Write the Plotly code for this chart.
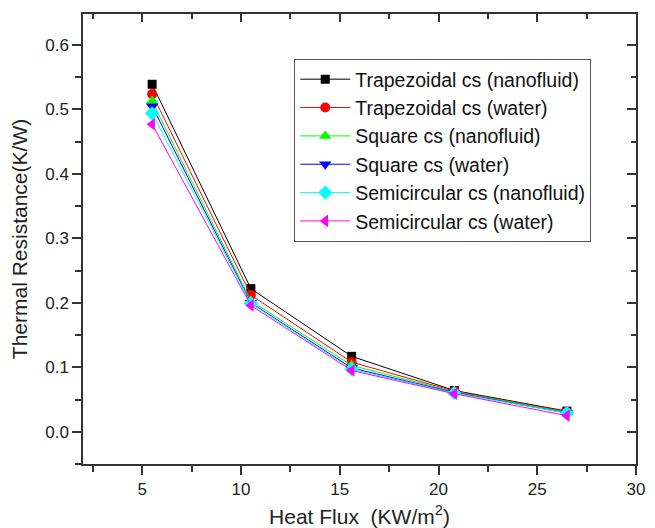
import plotly.graph_objects as go

heat_flux = [5.5, 10.5, 15.6, 20.8, 26.5]

trap_nano = [0.539, 0.222, 0.117, 0.064, 0.032]
trap_water = [0.524, 0.212, 0.108, 0.063, 0.031]
square_nano = [0.513, 0.203, 0.103, 0.062, 0.030]
square_water = [0.505, 0.200, 0.099, 0.061, 0.029]
semi_nano = [0.494, 0.199, 0.097, 0.060, 0.029]
semi_water = [0.477, 0.196, 0.095, 0.059, 0.025]

names = ["Trapezoidal cs (nanofluid)", "Trapezoidal cs (water)", "Square cs (nanofluid)",
         "Square cs (water)", "Semicircular cs (nanofluid)", "Semicircular cs (water)"]
series = [trap_nano, trap_water, square_nano, square_water, semi_nano, semi_water]
colors = ["#000000", "#ff0000", "#00ff00", "#0000ff", "#00ffff", "#ff00ff"]
symbols = ["square", "circle", "triangle-up", "triangle-down", "diamond", "triangle-left"]
sizes = [9, 10, 11, 11, 11, 11]

fig = go.Figure()
for n, s, c, sym, sz in zip(names, series, colors, symbols, sizes):
    fig.add_trace(go.Scatter(x=heat_flux, y=s, name=n, mode="lines+markers",
                             line=dict(color=c, width=1),
                             marker=dict(symbol=sym, color=c, size=sz)))

# invisible trace for mirrored (inward) axes
fig.add_trace(go.Scatter(x=[None], y=[None], xaxis="x2", yaxis="y2", showlegend=False))

font_fam = "Liberation Sans, Arial, sans-serif"
axis_col = "#333333"

fig.update_layout(
    width=655, height=528,
    margin=dict(l=83, r=19, t=14, b=64, autoexpand=False),
    paper_bgcolor="white", plot_bgcolor="white",
    font=dict(family=font_fam, size=17, color="#222222"),
    showlegend=True,
    legend=dict(x=0.382, y=0.9, xanchor="left", yanchor="top",
                bgcolor="white", bordercolor="#555555", borderwidth=1,
                font=dict(size=19.5, color="#111111"), tracegroupgap=0,
                itemwidth=50),
    xaxis=dict(range=[2, 30], tickvals=[5, 10, 15, 20, 25, 30], showgrid=False, zeroline=False,
               automargin=False,
               showline=True, linecolor=axis_col, linewidth=1.5,
               ticks="outside", ticklen=9, tickwidth=1.5, tickcolor=axis_col,
               minor=dict(tickvals=[2.5, 7.5, 12.5, 17.5, 22.5, 27.5], ticks="outside",
                          ticklen=6, tickwidth=1.5, tickcolor=axis_col),
               title=dict(text="Heat Flux  (KW/m<sup>2</sup>)", font=dict(size=21), standoff=14)),
    yaxis=dict(range=[-0.05, 0.648], tickvals=[0, 0.1, 0.2, 0.3, 0.4, 0.5, 0.6],
               ticktext=["0.0", "0.1", "0.2", "0.3", "0.4", "0.5", "0.6"],
               showgrid=False, zeroline=False, automargin=False,
               showline=True, linecolor=axis_col, linewidth=1.5,
               ticks="outside", ticklen=9, tickwidth=1.5, tickcolor=axis_col,
               minor=dict(tickvals=[-0.05, 0.05, 0.15, 0.25, 0.35, 0.45, 0.55], ticks="outside",
                          ticklen=6, tickwidth=1.5, tickcolor=axis_col),
               title=dict(text="Thermal Resistance(K/W)", font=dict(size=21), standoff=12)),
    xaxis2=dict(range=[2, 30], overlaying="x", side="top", showgrid=False, zeroline=False,
                automargin=False,
                showline=True, linecolor=axis_col, linewidth=1.5, showticklabels=False,
                tickvals=[5, 10, 15, 20, 25, 30], ticks="inside", ticklen=8, tickwidth=1.5,
                tickcolor=axis_col,
                minor=dict(tickvals=[2.5, 7.5, 12.5, 17.5, 22.5, 27.5], ticks="inside",
                           ticklen=5, tickwidth=1.5, tickcolor=axis_col)),
    yaxis2=dict(range=[-0.05, 0.648], overlaying="y", side="right", showgrid=False, zeroline=False,
                automargin=False,
                showline=True, linecolor=axis_col, linewidth=1.5, showticklabels=False,
                tickvals=[0, 0.1, 0.2, 0.3, 0.4, 0.5, 0.6], ticks="inside", ticklen=9,
                tickwidth=1.5, tickcolor=axis_col,
                minor=dict(tickvals=[-0.05, 0.05, 0.15, 0.25, 0.35, 0.45, 0.55], ticks="inside",
                           ticklen=5, tickwidth=1.5, tickcolor=axis_col)),
)

fig.write_html("out.html")
